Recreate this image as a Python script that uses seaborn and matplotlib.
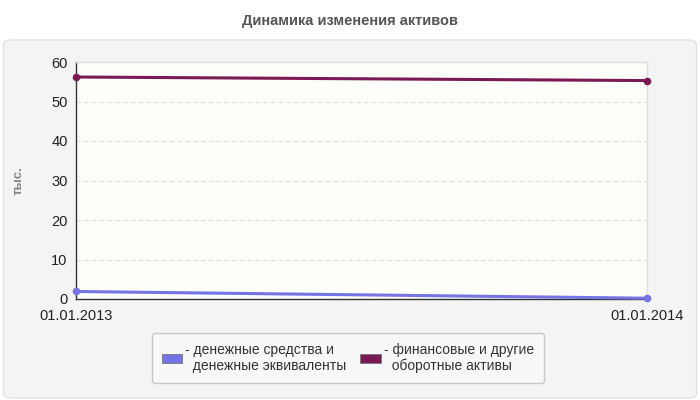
import pandas as pd
import matplotlib.pyplot as plt
import seaborn as sns
from matplotlib.patches import FancyBboxPatch, Patch

# chart data
dates = ['01.01.2013', '01.01.2014']
cash = [1.9, 0.2]
fin_assets = [56.2, 55.3]
series_names = ['денежные средства и\nденежные эквиваленты',
                'финансовые и другие\nоборотные активы']
colors = ['#7474e4', '#7a1a55']

df = pd.DataFrame({
    'pos': list(range(len(dates))) * 2,
    'value': cash + fin_assets,
    'series': [series_names[0]] * len(dates) + [series_names[1]] * len(dates),
})

sns.set_style('white')
plt.rcParams['font.family'] = ['Liberation Sans', 'DejaVu Sans']
plt.rcParams['hatch.color'] = '#e8e8e8'
plt.rcParams['hatch.linewidth'] = 0.6

fig = plt.figure(figsize=(7, 4), dpi=100)
fig.patch.set_facecolor('white')

# grey rounded panel behind the chart
panel = FancyBboxPatch((0.005, 0.005), 0.99, 0.895, boxstyle='round,pad=0,rounding_size=0.012',
                       transform=fig.transFigure, facecolor='#f4f4f4', edgecolor='#e2e2e2',
                       linewidth=1, zorder=-5)
fig.patches.append(panel)

fig.text(0.5, 0.948, 'Динамика изменения активов', ha='center', va='center',
         fontsize=10.5, fontweight='bold', color='#555555')

ax = fig.add_axes([0.1086, 0.2525, 0.8157, 0.5925])
ax.set_facecolor('#fdfdf9')
ax.patch.set_hatch('//////')

for y in range(10, 60, 10):
    ax.axhline(y, color='#dcdcdc', linestyle=(0, (4, 3)), linewidth=0.8, zorder=1)

sns.lineplot(data=df, x='pos', y='value', hue='series', palette=colors,
             marker='o', markersize=5.5, markeredgewidth=0, linewidth=2.2,
             legend=False, ax=ax, zorder=3, clip_on=False)

ax.set_xlim(0, len(dates) - 1)
ax.set_ylim(0, 60)
ax.set_yticks(range(0, 61, 10))
ax.set_xticks(range(len(dates)))
ax.set_xticklabels(dates)
ax.tick_params(axis='both', length=4, width=0.8, color='#333333', labelsize=10.5,
               labelcolor='#222222', direction='out', pad=2)
ax.tick_params(axis='x', pad=3)
ax.set_xlabel('')
ax.set_ylabel('тыс.', fontsize=9.5, fontweight='bold', color='#888888', labelpad=19)

for side in ['top', 'right']:
    ax.spines[side].set_color('#dedede')
    ax.spines[side].set_linewidth(1)
for side in ['left', 'bottom']:
    ax.spines[side].set_color('#333333')
    ax.spines[side].set_linewidth(1)

handles = [Patch(facecolor=c, edgecolor='#777777', linewidth=0.6) for c in colors]
labels = ['- ' + s.replace('\n', '\n  ') for s in series_names]
leg = fig.legend(handles, labels, loc='center', bbox_to_anchor=(0.497, 0.105), ncol=2,
                 frameon=True, fontsize=10, handlelength=1.5, handleheight=0.6,
                 handletextpad=0.2, columnspacing=1.0, borderpad=0.7,
                 labelcolor='#333333', fancybox=True)
leg.get_frame().set_facecolor('#fafafa')
leg.get_frame().set_edgecolor('#bbbbbb')

fig.savefig('out.png', dpi=100)
